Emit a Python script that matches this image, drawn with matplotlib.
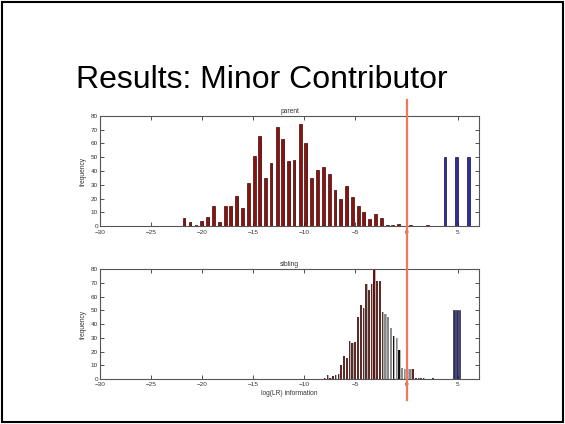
import matplotlib.pyplot as plt
import matplotlib.transforms as mtransforms
from matplotlib.patches import Rectangle
from matplotlib.lines import Line2D

plt.rcParams['font.family'] = ['Liberation Sans', 'DejaVu Sans']

# parent panel: bin centres and counts
parent_x = [-21.78, -21.19, -20.60, -20.04, -19.46, -18.91, -18.32, -17.76, -17.21, -16.62,
            -16.07, -15.51, -14.92, -14.37, -13.82, -13.26, -12.67, -12.11, -11.53, -11.01,
            -10.39, -9.86, -9.31, -8.73, -8.14, -7.55, -7.00, -6.44, -5.85, -5.30,
            -4.74, -4.18, -3.60, -3.05, -2.46, -1.90, -1.35, -0.76, 0.35, 2.04]
parent_n = [6, 3, 1, 4, 7, 15, 3, 15, 15, 22,
            13, 31, 51, 65, 35, 46, 72, 63, 47, 48,
            74, 60, 35, 41, 43, 38, 26, 20, 29, 21,
            15, 10, 5, 9, 6, 1, 1, 2, 1, 1]
parent_true_x = [3.76, 4.90, 6.02]
parent_true_n = [50, 50, 50]

# sibling panel
sib_x = [-8.04, -7.75, -7.48, -7.22, -6.96, -6.67, -6.41, -6.14, -5.85, -5.59,
         -5.33, -5.04, -4.77, -4.48, -4.22, -3.96, -3.70, -3.44, -3.18, -2.91,
         -2.62, -2.36, -2.10, -1.84, -1.54, -1.29, -1.00, -0.73, -0.47, -0.21,
         0.09, 0.35, 0.61, 0.91, 1.16, 1.40, 1.65, 2.57]
sib_n = [1, 3, 1, 2, 3, 4, 10, 17, 15, 28,
         26, 27, 45, 54, 52, 69, 65, 69, 79, 71,
         71, 49, 47, 45, 37, 31, 30, 21, 8, 7,
         7, 7, 7, 1, 1, 1, 1, 1]
sib_true_x = [4.66, 4.92, 5.18]
sib_true_n = [50, 50, 50]

fig = plt.figure(figsize=(5.65, 4.24), dpi=100)

# slide frame
fig.patches.append(Rectangle((0.003, 0.004), 0.994, 0.992, transform=fig.transFigure,
                             fill=False, edgecolor='black', linewidth=1.5))
fig.text(0.464, 0.792, 'Results: Minor Contributor', ha='center', va='baseline', fontsize=23)

ax1 = fig.add_axes([0.177, 0.4663, 0.671, 0.2608])
ax2 = fig.add_axes([0.177, 0.1061, 0.671, 0.2594])


def style_axes(ax, title):
    ax.set_xlim(-30, 7.1)
    ax.set_ylim(0, 80)
    ax.set_xticks(range(-30, 6, 5))
    ax.set_yticks(range(0, 81, 10))
    ax.tick_params(direction='in', length=3, width=0.6, labelsize=4.6, colors='#333333',
                   top=True, right=True)
    ax.tick_params(axis='x', pad=2.5)
    ax.tick_params(axis='y', pad=1.5)
    for s in ax.spines.values():
        s.set_color('#555555')
        s.set_linewidth(0.8)
    ax.set_title(title, fontsize=4.8, color='#333333', pad=2)
    ax.set_ylabel('frequency', fontsize=4.8, color='#333333', labelpad=3)


# parent bars: gray shadow then dark red
ax1.bar([x + 0.14 for x in parent_x], parent_n, width=0.12, color='#b5b5b5', zorder=1)
ax1.bar(parent_x, parent_n, width=0.28, color='#8a130f', edgecolor='#3d0806',
        linewidth=0.5, zorder=2)
ax1.bar(parent_true_x, parent_true_n, width=0.28, color='#2e2ea0', edgecolor='#10103a',
        linewidth=0.5, zorder=2)
style_axes(ax1, 'parent')

sib_colors = []
for x in sib_x:
    if x < -2.5 or x > 0.5:
        sib_colors.append('#5e2a26')
    else:
        sib_colors.append('#8a8a8a')
sib_colors[21] = '#5e2a26'
sib_colors[25] = '#111111'
sib_colors[27] = '#111111'
sib_colors[18] = '#6a0f0c'
ax2.bar([x + 0.1 for x in sib_x], sib_n, width=0.08, color='#b5b5b5', zorder=1)
ax2.bar(sib_x, sib_n, width=0.16, color=sib_colors, linewidth=0, zorder=2)
ax2.bar(sib_true_x, sib_true_n, width=0.17, color='#2a2a70', edgecolor='#0e0e30',
        linewidth=0.4, zorder=2)
style_axes(ax2, 'sibling')
ax2.set_xlabel('log(LR) information', fontsize=4.8, color='#333333', labelpad=2)

# threshold line at log(LR) = 0 spanning both panels
trans = mtransforms.blended_transform_factory(ax1.transData, fig.transFigure)
fig.lines.append(Line2D([0, 0], [1 - 100 / 424, 1 - 400 / 424], transform=trans,
                        color='#f3765a', linewidth=1.6, zorder=10))

fig.savefig('out.png', dpi=100)
